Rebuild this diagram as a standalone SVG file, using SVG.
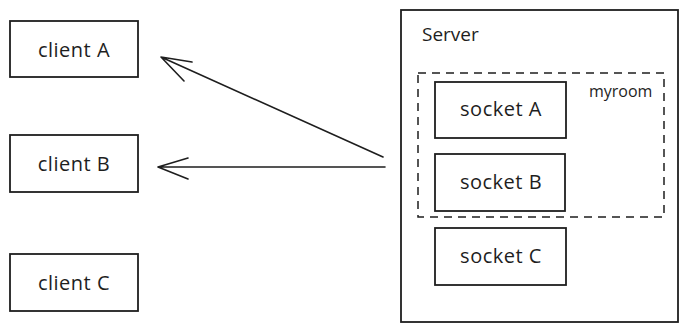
<svg xmlns="http://www.w3.org/2000/svg" width="688" height="331" viewBox="0 0 688 331">
<style>
.box{fill:none;stroke:#1e1e1e;stroke-width:1.8}
.dash{fill:none;stroke:#1e1e1e;stroke-width:1.5;stroke-dasharray:8 6}
.t{font-family:"Open Sans",sans-serif;font-size:20px;fill:#1e1e1e;text-anchor:middle;dominant-baseline:central;letter-spacing:0.5px}
.s{font-family:"Open Sans",sans-serif;fill:#1e1e1e}
.ln{fill:none;stroke:#1e1e1e;stroke-width:1.6;stroke-linecap:round}
</style>
<rect width="688" height="331" fill="#ffffff"/>
<g id="clientA"><rect class="box" x="10" y="21" width="128" height="56"/><text class="t" x="74" y="49">client A</text></g>
<g id="clientB"><rect class="box" x="10" y="135" width="128" height="57"/><text class="t" x="74" y="163">client B</text></g>
<g id="clientC"><rect class="box" x="10" y="254" width="128" height="57"/><text class="t" x="74" y="282">client C</text></g>
<g id="server"><rect class="box" x="401" y="10" width="277" height="312"/><text class="s" x="422" y="41" font-size="19">Server</text></g>
<g id="myroom"><rect class="dash" x="418" y="73" width="246" height="144"/><text class="s" x="589" y="97" font-size="16">myroom</text></g>
<g id="socketA"><rect class="box" x="435" y="82" width="131" height="56"/><text class="t" x="501" y="108">socket A</text></g>
<g id="socketB"><rect class="box" x="435" y="154" width="130" height="57"/><text class="t" x="501" y="181">socket B</text></g>
<g id="socketC"><rect class="box" x="435" y="228" width="131" height="57"/><text class="t" x="501" y="255">socket C</text></g>
<g id="connectors">
<path class="ln" d="M383 157 L161 57 M161 57 L192 62 M161 57 L184 81"/>
<path class="ln" d="M385 167 L158 167 M158 167 L188 158 M158 167 L188 179"/>
</g>
</svg>
